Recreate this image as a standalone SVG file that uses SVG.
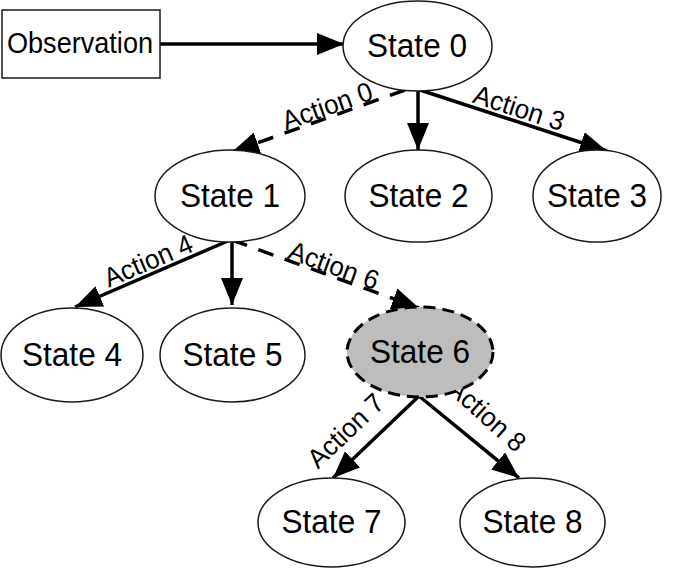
<svg xmlns="http://www.w3.org/2000/svg" width="681" height="569" viewBox="0 0 681 569">
<style>
.node{fill:#fff;stroke:#1a1a1a;stroke-width:1.5}
.sel{fill:#bdbdbd;stroke:#000;stroke-width:3;stroke-dasharray:12 7}
.t{font-family:"Liberation Sans",Arial,sans-serif;font-size:33px;fill:#000;text-anchor:middle;dominant-baseline:central}
.lbl{font-family:"Liberation Sans",Arial,sans-serif;font-size:27px;fill:#000;text-anchor:middle}
.e{stroke:#000;stroke-width:3.5;fill:none;marker-end:url(#ah)}
.d{stroke-dasharray:16 12}
</style>
<defs>
<marker id="ah" markerUnits="userSpaceOnUse" markerWidth="28" markerHeight="22" refX="27" refY="11" orient="auto">
<path d="M0,0 L27,11 L0,22 z" fill="#000"/>
</marker>
</defs>
<rect width="681" height="569" fill="#fff"/>
<g id="connectors">
<line class="e" x1="160" y1="44" x2="344" y2="44"/>
<line class="e d" x1="405" y1="90" x2="232" y2="152"/>
<line class="e" x1="418" y1="90" x2="418" y2="150"/>
<line class="e" x1="420" y1="90" x2="607" y2="151"/>
<line class="e" x1="230" y1="240" x2="75" y2="307"/>
<line class="e" x1="232" y1="240" x2="232" y2="305"/>
<line class="e d" x1="232" y1="240" x2="419" y2="308"/>
<line class="e" x1="419" y1="396" x2="333" y2="478"/>
<line class="e" x1="419" y1="396" x2="519" y2="478"/>
<text class="lbl" transform="translate(331,116.5) rotate(-19.7)" y="-2" textLength="94" lengthAdjust="spacingAndGlyphs">Action 0</text>
<text class="lbl" transform="translate(515,120.6) rotate(17.9)" y="-4" textLength="94" lengthAdjust="spacingAndGlyphs">Action 3</text>
<text class="lbl" transform="translate(153,272) rotate(-23.3)" y="-3" textLength="94" lengthAdjust="spacingAndGlyphs">Action 4</text>
<text class="lbl" transform="translate(330,276) rotate(20.1)" y="-2" textLength="94" lengthAdjust="spacingAndGlyphs">Action 6</text>
<text class="lbl" transform="translate(363,449) rotate(-43.6)" y="-16" textLength="94" lengthAdjust="spacingAndGlyphs">Action 7</text>
<text class="lbl" transform="translate(468,436) rotate(42)" y="-19" textLength="94" lengthAdjust="spacingAndGlyphs">Action 8</text>
</g>
<g id="observation"><rect class="node" x="2" y="10" width="158" height="68"/><text class="t" x="80" y="43" style="font-size:29px" textLength="146" lengthAdjust="spacingAndGlyphs">Observation</text></g>
<g id="state0"><ellipse class="node" cx="417.5" cy="46" rx="74.5" ry="45"/><text class="t" x="417" y="45" textLength="100" lengthAdjust="spacingAndGlyphs">State 0</text></g>
<g id="state1"><ellipse class="node" cx="230" cy="196" rx="75" ry="46"/><text class="t" x="230" y="195" textLength="100" lengthAdjust="spacingAndGlyphs">State 1</text></g>
<g id="state2"><ellipse class="node" cx="418.5" cy="196" rx="73.5" ry="46"/><text class="t" x="418.5" y="195" textLength="100" lengthAdjust="spacingAndGlyphs">State 2</text></g>
<g id="state3"><ellipse class="node" cx="597" cy="196" rx="64" ry="46"/><text class="t" x="597" y="195" textLength="100" lengthAdjust="spacingAndGlyphs">State 3</text></g>
<g id="state4"><ellipse class="node" cx="72" cy="355" rx="71" ry="47"/><text class="t" x="72" y="354" textLength="100" lengthAdjust="spacingAndGlyphs">State 4</text></g>
<g id="state5"><ellipse class="node" cx="232.5" cy="355" rx="72.5" ry="47"/><text class="t" x="232.5" y="354" textLength="100" lengthAdjust="spacingAndGlyphs">State 5</text></g>
<g id="state6"><ellipse class="sel" cx="420" cy="352" rx="73" ry="45"/><text class="t" x="420" y="351" textLength="100" lengthAdjust="spacingAndGlyphs">State 6</text></g>
<g id="state7"><ellipse class="node" cx="331.5" cy="522.5" rx="73.5" ry="44.5"/><text class="t" x="331.5" y="521.5" textLength="100" lengthAdjust="spacingAndGlyphs">State 7</text></g>
<g id="state8"><ellipse class="node" cx="532.5" cy="522.5" rx="72.5" ry="44.5"/><text class="t" x="532.5" y="521.5" textLength="100" lengthAdjust="spacingAndGlyphs">State 8</text></g>
</svg>
